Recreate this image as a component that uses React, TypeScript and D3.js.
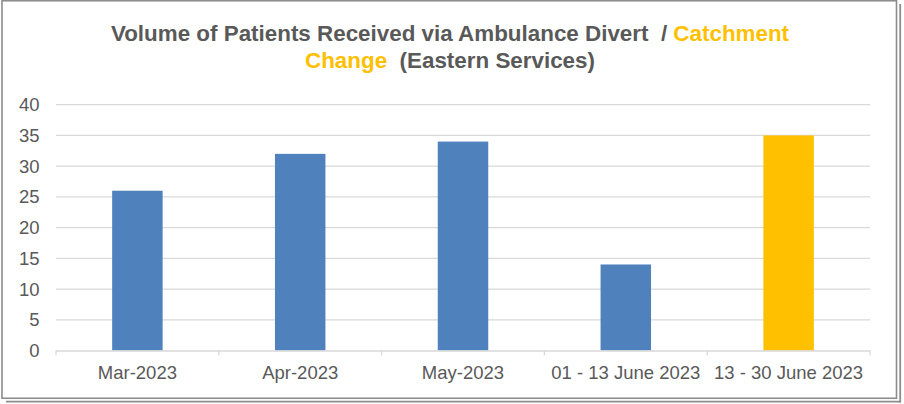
import React from "react";
import * as d3 from "d3";

const categories = ["Mar-2023", "Apr-2023", "May-2023", "01 - 13 June 2023", "13 - 30 June 2023"];
const values = [26, 32, 34, 14, 35];
const barColors = ["#4F81BD", "#4F81BD", "#4F81BD", "#4F81BD", "#FFC000"];
const yTicks = [0, 5, 10, 15, 20, 25, 30, 35, 40];

const W = 904;
const H = 404;
const plot = { left: 56, right: 870, top: 104.7, bottom: 350.5 };

export default function App() {
  const x = d3
    .scaleBand<string>()
    .domain(categories)
    .range([plot.left, plot.right])
    .paddingInner(0.69)
    .paddingOuter(0.345);
  const y = d3.scaleLinear().domain([0, 40]).range([plot.bottom, plot.top]);
  const step = (plot.right - plot.left) / categories.length;
  const font = "'Liberation Sans', Arial, sans-serif";
  const textColor = "#595959";

  return (
    <svg
      width={W}
      height={H}
      style={{ position: "absolute", left: 0, top: 0, background: "#fff" }}
      fontFamily={font}
    >
      <rect x={0} y={0} width={W} height={H} fill="#fff" />
      {/* frame */}
      <rect x={2} y={0.75} width={894.5} height={397.5} fill="none" stroke="#8c8c8c" strokeWidth={1.6} />
      <line x1={900.2} x2={900.2} y1={4} y2={402.5} stroke="#8c8c8c" strokeWidth={1.8} />
      <line x1={6} x2={901} y1={401.7} y2={401.7} stroke="#8c8c8c" strokeWidth={1.8} />

      {/* title */}
      <text x={450} y={41} textAnchor="middle" fontSize={22.4} fontWeight="bold" fill={textColor} xmlSpace="preserve">
        <tspan>Volume of Patients Received via Ambulance Divert  / </tspan>
        <tspan fill="#FFC000">Catchment</tspan>
      </text>
      <text x={450} y={67.5} textAnchor="middle" fontSize={22.4} fontWeight="bold" fill={textColor} xmlSpace="preserve">
        <tspan fill="#FFC000">Change</tspan>
        <tspan>  (Eastern Services)</tspan>
      </text>

      {/* gridlines */}
      {yTicks.filter((t) => t !== 0).map((t) => (
        <line key={t} x1={plot.left} x2={plot.right} y1={y(t)} y2={y(t)} stroke="#D9D9D9" strokeWidth={1.3} />
      ))}
      {/* y labels */}
      {yTicks.map((t) => (
        <text key={t} x={39.5} y={y(t)} dy="0.35em" textAnchor="end" fontSize={18.5} fill={textColor}>
          {t}
        </text>
      ))}

      {/* bars */}
      {categories.map((c, i) => (
        <rect
          key={c}
          x={x(c)}
          y={y(values[i])}
          width={x.bandwidth()}
          height={y(0) - y(values[i])}
          fill={barColors[i]}
        />
      ))}

      {/* x axis */}
      <line x1={plot.left} x2={plot.right} y1={y(0) + 0.5} y2={y(0) + 0.5} stroke="#D9D9D9" strokeWidth={1.3} />
      {d3.range(categories.length + 1).map((i) => (
        <line
          key={i}
          x1={plot.left + i * step}
          x2={plot.left + i * step}
          y1={y(0)}
          y2={y(0) + 5}
          stroke="#D9D9D9"
          strokeWidth={1.3}
        />
      ))}
      {categories.map((c) => (
        <text key={c} x={(x(c) ?? 0) + x.bandwidth() / 2} y={379} textAnchor="middle" fontSize={18.5} fill={textColor}>
          {c}
        </text>
      ))}
    </svg>
  );
}
